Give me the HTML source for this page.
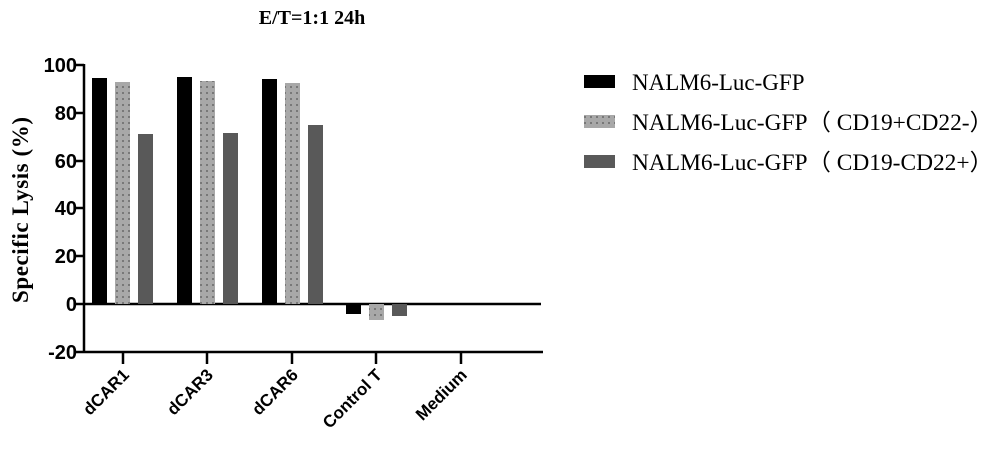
<!DOCTYPE html>
<html><head><style>body{margin:0;background:#fff}</style></head><body>
<svg width="1000" height="455" xmlns="http://www.w3.org/2000/svg">
<defs><pattern id="dots" width="6" height="6" patternUnits="userSpaceOnUse"><rect width="6" height="6" fill="#a8a8a8"/><circle cx="3" cy="3" r="0.9" fill="#555"/></pattern></defs>
<text x="312" y="24" font-family="Liberation Serif" font-weight="bold" font-size="20" text-anchor="middle">E/T=1:1 24h</text>
<g font-family="Liberation Sans" font-weight="bold" font-size="20" text-anchor="end">
<text x="77" y="72">100</text><text x="77" y="120">80</text><text x="77" y="168">60</text><text x="77" y="215">40</text><text x="77" y="263">20</text><text x="77" y="311">0</text><text x="77" y="359">-20</text>
</g>
<text transform="translate(28,210) rotate(-90)" font-family="Liberation Serif" font-weight="bold" font-size="23" text-anchor="middle" textLength="186">Specific Lysis (%)</text>
<g stroke="#000" stroke-width="2.5">
<line x1="84" y1="64" x2="84" y2="353"/>
<line x1="74" y1="352" x2="543" y2="352"/>
<line x1="84" y1="304" x2="541" y2="304"/>
<line x1="76" y1="65" x2="84" y2="65"/><line x1="76" y1="113" x2="84" y2="113"/><line x1="76" y1="161" x2="84" y2="161"/><line x1="76" y1="208" x2="84" y2="208"/><line x1="76" y1="256" x2="84" y2="256"/><line x1="76" y1="304" x2="84" y2="304"/>
<line x1="123" y1="352" x2="123" y2="364"/><line x1="207" y1="352" x2="207" y2="364"/><line x1="292" y1="352" x2="292" y2="364"/><line x1="376" y1="352" x2="376" y2="364"/><line x1="461" y1="352" x2="461" y2="364"/>
</g>
<g>
<rect x="92" y="78" width="15" height="226" fill="#000"/><rect x="115" y="82" width="15" height="222" fill="url(#dots)"/><rect x="138" y="134" width="15" height="170" fill="#595959"/>
<rect x="177" y="77" width="15" height="227" fill="#000"/><rect x="200" y="81" width="15" height="223" fill="url(#dots)"/><rect x="223" y="133" width="15" height="171" fill="#595959"/>
<rect x="262" y="79" width="15" height="225" fill="#000"/><rect x="285" y="83" width="15" height="221" fill="url(#dots)"/><rect x="308" y="125" width="15" height="179" fill="#595959"/>
<rect x="346" y="304" width="15" height="10" fill="#000"/><rect x="369" y="304" width="15" height="16" fill="url(#dots)"/><rect x="392" y="304" width="15" height="12" fill="#595959"/>
</g>
<g font-family="Liberation Sans" font-weight="bold" font-size="17" text-anchor="end">
<text transform="translate(130,376) rotate(-45)">dCAR1</text>
<text transform="translate(214,376) rotate(-45)">dCAR3</text>
<text transform="translate(299,376) rotate(-45)">dCAR6</text>
<text transform="translate(383,376) rotate(-45)">Control T</text>
<text transform="translate(468,376) rotate(-45)">Medium</text>
</g>
<rect x="584" y="75" width="31" height="13" fill="#000"/>
<rect x="584" y="115" width="31" height="13" fill="url(#dots)"/>
<rect x="584" y="155" width="31" height="13" fill="#595959"/>
<g font-family="Liberation Serif" font-size="23">
<text x="632" y="90">NALM6-Luc-GFP</text>
<text x="632" y="130" textLength="361" lengthAdjust="spacingAndGlyphs">NALM6-Luc-GFP（ CD19+CD22-）</text>
<text x="632" y="170" textLength="361" lengthAdjust="spacingAndGlyphs">NALM6-Luc-GFP（ CD19-CD22+）</text>
</g>
</svg>
</body></html>
